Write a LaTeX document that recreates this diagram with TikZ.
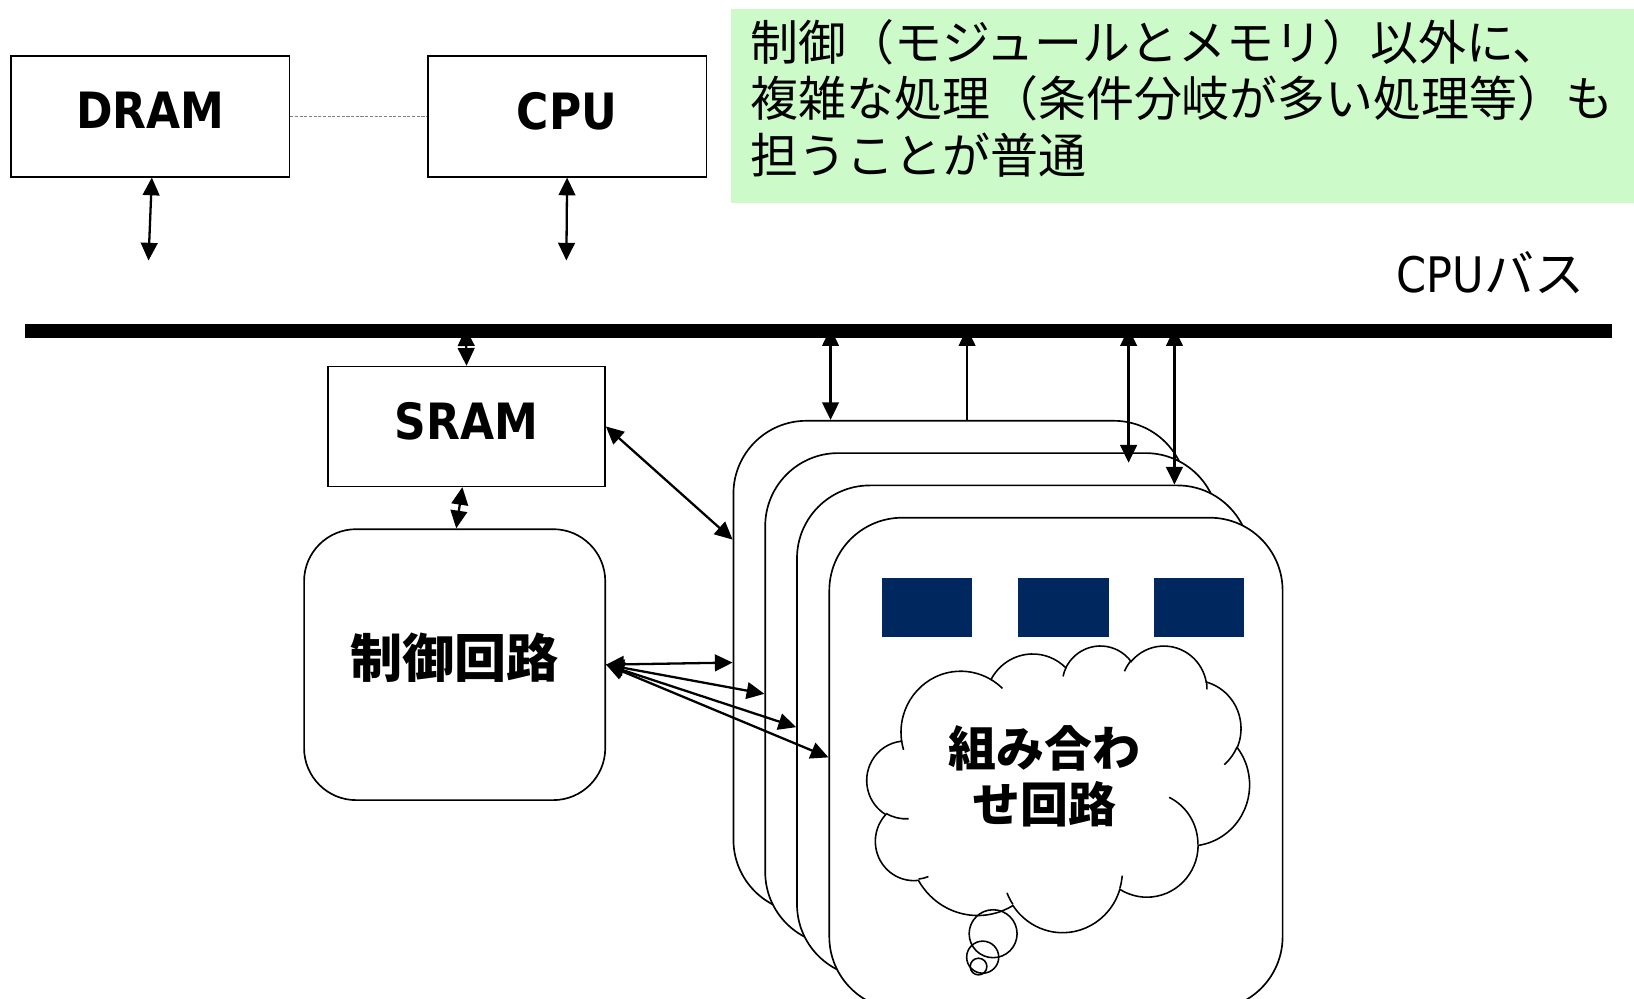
\documentclass[tikz,border=0pt]{standalone}
\usepackage{fontspec}
\newfontfamily\tah[FakeStretch=0.88]{DejaVu Sans}
\newfontfamily\jp{Noto Sans CJK JP}
\usetikzlibrary{arrows.meta,calc}
\definecolor{notegreen}{RGB}{204,250,200}
\definecolor{navyblk}{RGB}{0,40,94}
\tikzset{
  tipshape/.tip={Triangle[length=17pt,width=16pt]},
  dbl/.style={tipshape-tipshape, line width=2.2pt},
  one/.style={-tipshape, line width=2.2pt},
  box/.style={draw, line width=1.4pt, fill=white, inner sep=0pt, anchor=north west},
  card/.style={draw, line width=1.6pt, fill=white, rounded corners=70pt, inner sep=0pt,
    minimum width=435pt, minimum height=472pt, anchor=north west},
  lat/.style={font=\tah\bfseries\fontsize{48}{58}\selectfont},
  navy/.style={fill=navyblk, minimum width=87pt, minimum height=57pt, inner sep=0pt, anchor=north west},
  cloudline/.style={line width=1.5pt},
}
\begin{document}
\begin{tikzpicture}[x=1pt,y=-1pt]
\useasboundingbox (0,0) rectangle (1568,958);
\clip (0,0) rectangle (1568,958);
% note
\node[fill=notegreen, minimum width=867pt, minimum height=187pt, anchor=north west, inner sep=0pt] (note) at (701,8) {};
\node[anchor=north west, inner sep=0pt, align=left, font=\jp\fontsize{46}{54.5}\selectfont] (notetext) at (720,18)
  {制御（モジュールとメモリ）以外に、\\複雑な処理（条件分岐が多い処理等）も\\担うことが普通};
% DRAM / CPU
\node[box, lat, minimum width=267pt, minimum height=116pt, text depth=11pt] (dram) at (10,53) {DRAM};
\node[box, lat, minimum width=267pt, minimum height=116pt, text depth=11pt] (cpu) at (410,53) {CPU};
\draw[gray, line width=0.8pt, dash pattern=on 3pt off 1.5pt] (dram) -- (cpu);
\coordinate (dramfree) at (142.5,250);
\coordinate (cpufree) at (543.5,250);
\draw[dbl] ([xshift=1.5pt]dram.south) -- (dramfree);
\draw[dbl] (cpu.south) -- (cpufree);
\node[anchor=base west, inner sep=0pt] (buslabel) at (1340,281)
  {{\tah\fontsize{47}{56}\selectfont CPU}{\jp\fontsize{48}{56}\selectfont バス}};
% SRAM and control
\node[box, lat, minimum width=266pt, minimum height=115pt, text depth=10pt] (sram) at (314,351) {SRAM};
\node[draw, line width=1.6pt, rounded corners=50pt, fill=white, inner sep=0pt,
  minimum width=289pt, minimum height=260pt, anchor=north west] (ctrl) at (291,507) {};
\node[font=\jp\bfseries\fontsize{50}{60}\selectfont, inner sep=0pt] (ctrltext) at ([yshift=7pt]ctrl.center) {制御回路};
\draw[dbl] ([xshift=-4pt]sram.south) -- ([xshift=1.5pt]ctrl.north);
% stacked cards
\node[card] (b1) at (703,403) {};
\node[card] (b2) at (733.5,434) {};
\node[card] (b3) at (764,465) {};
\node[card] (b4) at (795,496) {};
\node[navy] (r1) at (846,554) {};
\node[navy] (r2) at (977,554) {};
\node[navy] (r3) at (1107,554) {};
% cloud
\begin{scope}[shift={(832,619)}, x=0.8495pt, y=-0.6366pt]
\draw[cloudline, fill=white] (39,143.7)
  \foreach \w/\h/\s/\d [evaluate=\s as \ta using {atan2(\w*sin(\s),\h*cos(\s))},
     evaluate=\s as \dd using {mod(atan2(\w*sin(\s+\d),\h*cos(\s+\d))-atan2(\w*sin(\s),\h*cos(\s))+720,360)}] in
  {67.53/91.90/-190.4875/123.7805,
   53.33/72.67/-144.1024/89.9452,
   43.65/59.45/-145.8079/99.7230,
   48.57/65.95/-130.9861/117.2417,
   53.33/72.73/-78.7089/109.0269,
   67.75/92.20/-46.2673/130.2690,
   57.85/78.67/0.6250/114.0333,
   67.52/92.15/22.4516/115.1726,
   77.20/105.43/66.2426/75.7110,
   43.60/59.18/-274.9421/146.7356,
   43.45/59.45/-246.8285/152.5189}
  { arc[start angle=\ta, delta angle=\dd, x radius=\w, y radius=\h] } -- cycle;
\foreach \x/\y/\w/\h/\s/\d in
  {46.93/261.77/43.45/59.45/86.7420/26.4295,
   69.28/348.99/43.60/59.18/73.6105/11.4475,
   164.78/390.90/67.52/92.15/137.6242/14.0811,
   288.27/347.51/67.52/92.15/6.4533/15.9984,
   341.29/229.54/57.85/78.67/-70.2924/70.9174,
   417.98/153.54/53.33/72.73/30.3180/27.7515,
   383.24/54.26/48.57/65.95/-13.7443/14.8589,
   290.78/39.52/48.57/65.95/-149.1815/18.1954,
   221.41/47.20/43.65/59.45/-163.4943/17.6864,
   140.00/51.92/67.53/91.90/-66.7070/12.3194,
   41.27/157.89/67.53/91.90/157.6544/11.8582}
{
  \pgfmathsetmacro\ta{atan2(\w*sin(\s),\h*cos(\s))}
  \pgfmathsetmacro\dd{mod(atan2(\w*sin(\s+\d),\h*cos(\s+\d))-\ta+720,360)}
  \draw[cloudline] (\x,\y) arc[start angle=\ta, delta angle=\dd, x radius=\w, y radius=\h];
}
\end{scope}
\draw[cloudline] (953,896) circle[radius=23];
\draw[cloudline] (943,918.5) circle[radius=15.4];
\draw[cloudline] (939,927.5) circle[radius=8];
\node[font=\jp\bfseries\fontsize{46}{54}\selectfont, align=center, inner sep=0pt] (cloudtext) at (1002,745) {組み合わ\\せ回路};
% connectors
\draw[dbl] (ctrl.east) -- ([yshift=4pt]b1.west);
\draw[dbl] (ctrl.east) -- ([yshift=5pt]b2.west);
\draw[dbl] (ctrl.east) -- ([yshift=4pt]b3.west);
\draw[dbl] (ctrl.east) -- ([yshift=6pt]b4.west);
\draw[dbl] (sram.east) -- ([yshift=122pt]b1.west);
\coordinate (t0) at (447,315);
\coordinate (t1) at (797,315);
\coordinate (t2) at (928,315);
\coordinate (t3) at (1083,315);
\coordinate (t3end) at (1083,444);
\coordinate (t4) at (1127,315);
\draw[dbl] (t0) -- (sram.north);
\draw[dbl] (t1) -- (t1 |- b1.north);
\draw[one] (t2 |- b1.north) -- (t2);
\draw[dbl] (t3) -- (t3end);
\draw[dbl] (t4) -- (t4 |- b3.north);
% bus (drawn over the arrow tips)
\node[fill=black, minimum width=1523pt, minimum height=13pt, inner sep=0pt, anchor=north west] (bus) at (24,311) {};
\end{tikzpicture}
\end{document}
